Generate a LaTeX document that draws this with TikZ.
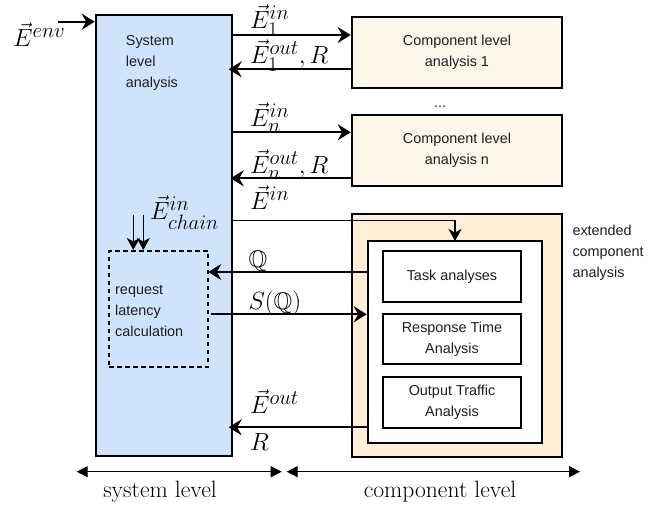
\documentclass[tikz,border=0pt]{standalone}
\usepackage{amsmath,amssymb}
\usepackage{fontspec}
\newfontfamily\lsans{Liberation Sans}
\DeclareMathSizes{24}{24}{19.5}{15}
\usetikzlibrary{arrows.meta}
\definecolor{sysblue}{HTML}{CFE4FC}
\definecolor{compcream}{HTML}{FDF7EA}
\definecolor{extorange}{HTML}{FEEFD6}
\definecolor{txtgray}{HTML}{1E1E1E}
\tikzset{
  box/.style={draw=black, line width=2pt, inner sep=0pt},
  stxt/.style={font=\lsans\fontsize{14.4}{21}\selectfont, text=txtgray, inner sep=0pt},
  mlab/.style={font=\fontsize{24}{28}\selectfont, inner sep=0pt, anchor=base west},
  conn/.style={line width=2pt, -{Stealth[length=13pt,width=16pt,inset=4.5pt]}},
  thinconn/.style={line width=1.5pt, -{Stealth[length=12pt,width=13pt,inset=3.5pt]}},
  scalearrow/.style={line width=1.3pt, {Triangle[length=11pt,width=11pt]}-{Triangle[length=11pt,width=11pt]}},
  lvl/.style={font=\fontsize{23.6}{28}\selectfont, anchor=base, inner sep=0pt}
}
\begin{document}
\begin{tikzpicture}[x=1pt,y=-1pt]
\useasboundingbox (0,0) rectangle (662,508);
% boxes
\node[box, fill=sysblue, minimum width=136pt, minimum height=441pt] (sys) at (163.7,235.5) {};
\node[stxt, anchor=west, align=left] (systxt) at (125.7,62.5) {System\\level\\analysis};
\node[box, fill=compcream, minimum width=210.6pt, minimum height=71pt, stxt, align=center] (c1) at (457,52.2) {Component level\\analysis 1};
\node[box, fill=compcream, minimum width=210.6pt, minimum height=71pt, stxt, align=center] (cn) at (457,150.5) {Component level\\analysis n};
\node[stxt, anchor=base] (dots) at (440,108) {...};
\node[box, fill=extorange, minimum width=210.6pt, minimum height=242.7pt] (ext) at (457,335.35) {};
\node[box, fill=white, minimum width=174pt, minimum height=202.3pt] (inner) at (454.7,342.15) {};
\node[box, fill=white, minimum width=137.4pt, minimum height=50.7pt, stxt] (task) at (452,276.35) {Task analyses};
\node[box, fill=white, minimum width=137.4pt, minimum height=50pt, stxt, align=center] (rta) at (452,339.3) {Response Time\\Analysis};
\node[box, fill=white, minimum width=137.4pt, minimum height=50.4pt, stxt, align=center] (ota) at (452,402.5) {Output Traffic\\Analysis};
\node[stxt, anchor=west, align=left] (exttxt) at (572.3,252.3) {extended\\component\\analysis};
\node[draw=black, line width=2pt, dash pattern=on 4.5pt off 3.5pt, minimum width=99pt, minimum height=116.3pt, inner sep=0pt] (req) at (158.8,309.15) {};
\node[stxt, anchor=west, align=left] (reqtxt) at (115,311) {request\\latency\\calculation};
% env arrow
\coordinate (envstart) at (58,21.7);
\draw[conn] (envstart) -- (sys.west |- envstart);
\node[mlab] (lenv) at (13,46.7) {$\vec{E}^{env}$};
% component 1
\draw[conn] (sys.east |- 0,35) -- (c1.west |- 0,35);
\draw[conn] (c1.west |- 0,69.3) -- ([xshift=-4pt]sys.east |- 0,69.3);
\node[mlab] (l1in) at (250,28.3) {$\vec{E}_1^{in}$};
\node[mlab] (l1out) at (250,63.3) {$\vec{E}_1^{out},R$};
% component n
\draw[conn] (sys.east |- 0,132.3) -- (cn.west |- 0,132.3);
\draw[conn] (cn.west |- 0,178.3) -- ([xshift=-2pt]sys.east |- 0,178.3);
\node[mlab] (lnin) at (250,126.5) {$\vec{E}_n^{in}$};
\node[mlab] (lnout) at (250,173.3) {$\vec{E}_n^{out},R$};
% extended
\draw[thinconn] (sys.east |- 0,220.5) -- (455,220.5) -- (455,241);
\node[mlab] (lein) at (250,210) {$\vec{E}^{in}$};
\draw[conn] (inner.west |- 0,272) -- ([xshift=-1pt]req.east |- 0,272);
\node[mlab] (lq) at (248.3,268) {$\mathbb{Q}$};
\draw[conn] ([xshift=2pt]req.east |- 0,314.3) -- (inner.west |- 0,314.3);
\node[mlab] (lsq) at (248.3,309) {$S(\mathbb{Q})$};
\draw[conn] (inner.west |- 0,427.3) -- ([xshift=-4pt]sys.east |- 0,427.3);
\node[mlab] (leout) at (250,413.3) {$\vec{E}^{out}$};
\node[mlab] (lr) at (250,450) {$R$};
% chain arrows
\coordinate (ch1) at (133.3,215);
\coordinate (ch2) at (143.3,215);
\draw[thinconn] (ch1) -- (ch1 |- req.north);
\draw[thinconn] (ch2) -- (ch2 |- req.north);
\node[mlab] (lchain) at (150,220) {$\vec{E}_{chain}^{in}$};
% scale arrows
\coordinate (s1) at (76.7,471.7);
\coordinate (s2) at (281.7,471.7);
\coordinate (s3) at (286.7,471.7);
\coordinate (s4) at (580,471.7);
\draw[scalearrow] (s1) -- (s2);
\draw[scalearrow] (s3) -- (s4);
\node[lvl] (lsys) at (160,497) {system level};
\node[lvl] (lcomp) at (440,497) {component level};
\end{tikzpicture}
\end{document}
